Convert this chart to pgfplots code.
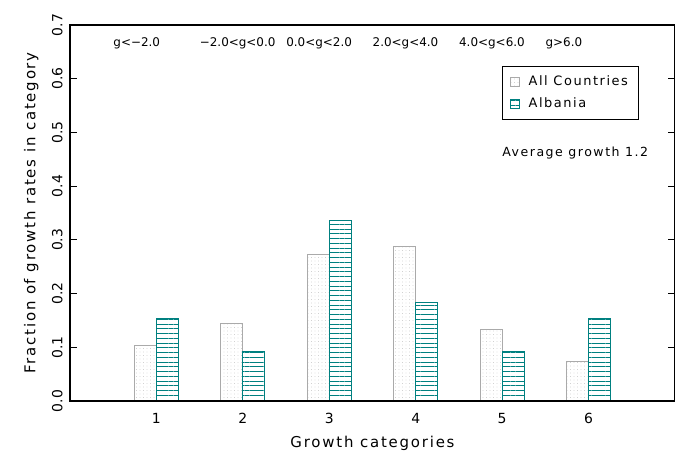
\documentclass[border=0pt]{standalone}
\usepackage{fontspec}
\setmainfont{DejaVu Sans}
\newfontfamily\wfont[LetterSpace=12]{DejaVu Sans}
\usepackage{pgfplots}
\pgfplotsset{compat=1.18}
\usetikzlibrary{patterns.meta}
\definecolor{tealc}{RGB}{0,128,128}
\definecolor{grayc}{RGB}{170,170,170}
\definecolor{dotc}{RGB}{185,185,185}
\begin{document}
\begin{tikzpicture}
\begin{axis}[
  axis on top,
  scale only axis,
  width=605bp, height=376bp,
  xmin=0, xmax=7, ymin=0, ymax=0.7,
  xtick={1,2,3,4,5,6},
  ytick={0,0.1,0.2,0.3,0.4,0.5,0.6,0.7},
  major tick length=7bp,
  tick align=inside,
  tick pos=both,
  ytick style={draw=black, line width=1.1pt},
  xtick style={draw opacity=0},
  axis line style={black, line width=1.6pt},
  /pgf/number format/assume math mode=true,
  tick label style={font=\fontsize{14}{16}\selectfont},
  yticklabel style={/pgf/number format/.cd, fixed, fixed zerofill, precision=1, /tikz/.cd, rotate=90, anchor=south},
  yticklabel shift=4bp,
  xticklabel shift=9bp,
  xlabel={Growth categories},
  ylabel={Fraction of growth rates in category},
  every axis x label/.style={at={(axis description cs:0.5,-0.112)}, anchor=center, font=\wfont\fontsize{15}{17}\selectfont},
  every axis y label/.style={at={(axis description cs:-0.064,0.5)}, rotate=90, anchor=center, font=\wfont\fontsize{15}{17}\selectfont},
  bar width=0.255,
  legend style={at={(axis description cs:0.714,0.891)}, anchor=north west, draw=black, line width=0.6pt, font=\wfont\fontsize{13}{15}\selectfont, inner xsep=8bp, inner ysep=7.5bp, row sep=7bp, cells={anchor=west}},
  legend image code/.code={\draw[#1, line width=0.7pt] (0bp,-4.5bp) rectangle (9bp,4.5bp); \path[draw=none] (0bp,0bp) -- (16bp,0bp);},
]
\addplot[ybar, bar shift=-0.1275, draw=grayc, line width=0.9pt, pattern={Dots[distance=3.5bp, radius=0.35bp]}, pattern color=dotc]
  coordinates {(1,0.103) (2,0.144) (3,0.272) (4,0.287) (5,0.134) (6,0.074)};
\addlegendentry{All Countries}
\addplot[ybar, bar shift=0.1275, draw=tealc, line width=0.9pt, pattern={Lines[angle=0, distance=4.75bp, line width=0.8bp]}, pattern color=tealc]
  coordinates {(1,0.154) (2,0.092) (3,0.336) (4,0.184) (5,0.092) (6,0.154)};
\addlegendentry{Albania}
\node[anchor=west, inner sep=0pt, font=\fontsize{12}{14}\selectfont] at (axis cs:0.5,0.6665) {g<\textminus2.0};
\node[anchor=west, inner sep=0pt, font=\fontsize{12}{14}\selectfont] at (axis cs:1.5,0.6665) {\textminus2.0<g<0.0};
\node[anchor=west, inner sep=0pt, font=\fontsize{12}{14}\selectfont] at (axis cs:2.5,0.6665) {0.0<g<2.0};
\node[anchor=west, inner sep=0pt, font=\fontsize{12}{14}\selectfont] at (axis cs:3.5,0.6665) {2.0<g<4.0};
\node[anchor=west, inner sep=0pt, font=\fontsize{12}{14}\selectfont] at (axis cs:4.5,0.6665) {4.0<g<6.0};
\node[anchor=west, inner sep=0pt, font=\fontsize{12}{14}\selectfont] at (axis cs:5.5,0.6665) {g>6.0};
\node[anchor=west, inner sep=0pt, font=\wfont\fontsize{12.6}{14}\selectfont] at (axis cs:5.0,0.4618) {Average growth 1.2};
\end{axis}
\begin{axis}[
  scale only axis,
  width=605bp, height=376bp,
  xmin=0, xmax=7, ymin=0, ymax=0.7,
  x dir=reverse,
  xtick=\empty,
  ytick={0.1,0.2,0.3,0.4,0.5,0.6},
  yticklabels={},
  ytick pos=right,
  tick align=inside,
  major tick length=7bp,
  ytick style={draw=black, line width=1.1pt},
  axis line style={draw opacity=0},
]
\end{axis}
\pgfresetboundingbox
\path (-70bp,-56bp) rectangle (605bp,401bp);
\end{tikzpicture}
\end{document}
